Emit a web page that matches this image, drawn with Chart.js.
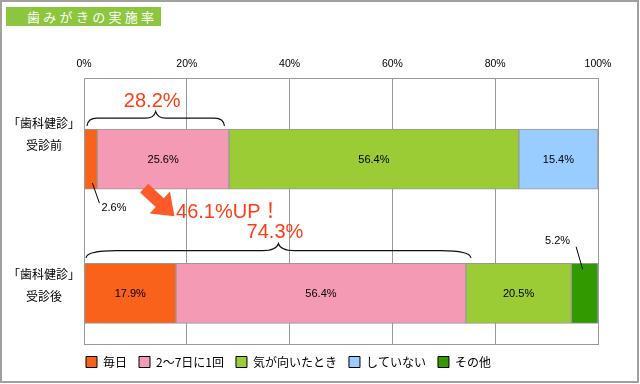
<!DOCTYPE html>
<html><head><meta charset="utf-8">
<script src="https://cdn.jsdelivr.net/npm/chart.js@4.4.1/dist/chart.umd.min.js"></script>
<style>
html,body{margin:0;padding:0;background:#fff;}
#wrap{position:relative;width:640px;height:384px;overflow:hidden;}
#title{position:absolute;left:6px;top:7px;width:155px;height:19px;background:#8CC63E;color:#fff;font-family:"Noto Sans CJK JP";font-size:13px;letter-spacing:3.3px;line-height:19px;padding-left:21px;box-sizing:border-box;white-space:nowrap;}
canvas{position:absolute;left:0;top:0;}
</style></head><body>
<div id="wrap"><canvas id="c" width="640" height="384" style="width:640px;height:384px"></canvas><div id="title">歯みがきの実施率</div></div>
<script>
// ---- data ----
const categories = [['「歯科健診」', '受診前'], ['「歯科健診」', '受診後']];
const seriesNames = ['毎日', '2〜7日に1回', '気が向いたとき', 'していない', 'その他'];
const everyDay = [2.6, 17.9];
const weekly = [25.6, 56.4];
const whenever = [56.4, 20.5];
const never = [15.4, null];
const other = [null, 5.2];
const xTicks = [0, 20, 40, 60, 80, 100];
const braceTotals = [28.2, 74.3];
const upLabel = '46.1%UP！';

// ---- styling ----
const seriesColors = ['#F8621A', '#F49AB4', '#9BCB35', '#99CCFF', '#339900'];
const seriesValues = [everyDay, weekly, whenever, never, other];
const labelShift = [-0.185, -0.058];
const accent = '#FF3D14';
const labelFont = {family: 'Noto Sans CJK JP', size: 12, lineHeight: 1.8};
const smallFont = '"Liberation Sans Narrow", "Liberation Sans"';

const datasets = seriesNames.map((name, d) => ({
  label: name,
  data: seriesValues[d].map((v, i) => ({x: v, y: i + 1})).filter(p => p.x !== null),
  backgroundColor: seriesColors[d],
  borderColor: '#999',
  borderWidth: 1,
  borderSkipped: false,
  barThickness: 60
}));

// width of widest category line, for centring the labels in the left margin
const mctx = document.createElement('canvas').getContext('2d');
mctx.font = labelFont.size + 'px "' + labelFont.family + '"';
const widest = Math.max(...categories.flat().map(t => mctx.measureText(t).width));

const frame = {
  id: 'frame',
  afterDraw(chart) {
    const {ctx, chartArea: ca} = chart;
    ctx.save();
    ctx.strokeStyle = '#999';
    ctx.lineWidth = 1;
    ctx.strokeRect(Math.round(ca.left) + 0.5, Math.round(ca.top) + 0.5, Math.round(ca.right - ca.left), Math.round(ca.bottom - ca.top));
    ctx.strokeStyle = '#A0A0A0';
    ctx.lineWidth = 2;
    ctx.strokeRect(1, 1, 637, 381);
    ctx.restore();
  }
};

function brace(ctx, x0, x1, yTip, yH, yPeak, rEnd, rMid) {
  const mid = (x0 + x1) / 2;
  ctx.beginPath();
  ctx.moveTo(x0, yTip);
  ctx.quadraticCurveTo(x0 + 1, yH, x0 + rEnd, yH);
  ctx.lineTo(mid - rMid, yH);
  ctx.quadraticCurveTo(mid - 2, yH, mid, yPeak);
  ctx.quadraticCurveTo(mid + 2, yH, mid + rMid, yH);
  ctx.lineTo(x1 - rEnd, yH);
  ctx.quadraticCurveTo(x1 - 1, yH, x1, yTip);
  ctx.stroke();
  return mid;
}

const annot = {
  id: 'annot',
  afterDatasetsDraw(chart) {
    const {ctx, scales: {x}} = chart;
    ctx.save();
    // segment labels
    chart.data.datasets.forEach((ds, d) => {
      const meta = chart.getDatasetMeta(d);
      meta.data.forEach((el, k) => {
        const v = ds.data[k].x;
        const cat = ds.data[k].y - 1;
        const cx = (el.x + el.base) / 2;
        const txt = v.toFixed(1) + '%';
        ctx.fillStyle = '#000';
        ctx.strokeStyle = '#000';
        ctx.lineWidth = 1;
        ctx.font = '11px ' + smallFont;
        ctx.textBaseline = 'middle';
        if (v >= 10) {
          ctx.textAlign = 'center';
          ctx.fillText(txt, cx, el.y + 1);
        } else if (cat === 0) {
          const b = el.y + el.height / 2;
          ctx.beginPath(); ctx.moveTo(cx + 1.5, b - 6); ctx.lineTo(cx + 8.5, b + 14); ctx.stroke();
          ctx.textAlign = 'left';
          ctx.fillText(txt, cx + 10.5, b + 19);
        } else {
          const t = el.y - el.height / 2;
          ctx.beginPath(); ctx.moveTo(cx - 2, t + 6); ctx.lineTo(cx - 8.5, t - 16.5); ctx.stroke();
          ctx.textAlign = 'right';
          ctx.fillText(txt, cx - 14.5, t - 22.5);
        }
      });
    });
    // braces
    const e1 = chart.getDatasetMeta(0).data[0];
    const e2 = chart.getDatasetMeta(0).data[1];
    const top1 = e1.y - e1.height / 2, bot1 = e1.y + e1.height / 2;
    const top2 = e2.y - e2.height / 2;
    ctx.strokeStyle = '#111';
    ctx.lineWidth = 1.2;
    const m1 = brace(ctx, x.getPixelForValue(0) + 3, x.getPixelForValue(braceTotals[0]) - 4.5, top1 - 3.3, top1 - 11, top1 - 17.6, 10, 10);
    const m2 = brace(ctx, x.getPixelForValue(0) + 2, x.getPixelForValue(braceTotals[1]) + 5, top2 - 5.5, top2 - 12.7, top2 - 19.7, 30, 16);
    ctx.fillStyle = accent;
    ctx.font = '20px "Liberation Sans", "Noto Sans CJK JP"';
    ctx.textAlign = 'center';
    ctx.textBaseline = 'alphabetic';
    ctx.fillText(braceTotals[0].toFixed(1) + '%', m1 - 3.5, top1 - 22.6);
    ctx.fillText(braceTotals[1].toFixed(1) + '%', m2 - 3.5, top2 - 25.7);
    ctx.textAlign = 'left';
    ctx.fillText(upLabel, x.getPixelForValue(17.9), bot1 + 29);
    // arrow
    const sx = x.getPixelForValue(11.7), sy = bot1 - 1;
    const tx = x.getPixelForValue(17.6), ty = bot1 + 27;
    const L = Math.hypot(tx - sx, ty - sy);
    const dx = (tx - sx) / L, dy = (ty - sy) / L;
    const nx = -dy, ny = dx;
    const hl = 20, hw = 15, sw = 6;
    const hx = tx - dx * hl, hy = ty - dy * hl;
    ctx.fillStyle = '#FF5A2A';
    ctx.beginPath();
    ctx.moveTo(sx + nx * sw, sy + ny * sw);
    ctx.lineTo(hx + nx * sw, hy + ny * sw);
    ctx.lineTo(hx + nx * hw, hy + ny * hw);
    ctx.lineTo(tx, ty);
    ctx.lineTo(hx - nx * hw, hy - ny * hw);
    ctx.lineTo(hx - nx * sw, hy - ny * sw);
    ctx.lineTo(sx - nx * sw, sy - ny * sw);
    ctx.closePath();
    ctx.fill();
    ctx.restore();
  }
};

new Chart(document.getElementById('c'), {
  type: 'bar',
  data: {datasets},
  options: {
    indexAxis: 'y',
    responsive: false,
    animation: false,
    layout: {padding: {left: 74, right: 42, top: 0, bottom: 6}},
    scales: {
      x: {
        type: 'linear', position: 'top', min: 0, max: 100, stacked: true,
        afterBuildTicks: s => { s.ticks = xTicks.map(v => ({value: v})); },
        afterFit: s => { s.height = 78; },
        grid: {color: '#999', lineWidth: 1, drawTicks: false},
        border: {color: '#999'},
        ticks: {callback: v => v + '%', color: '#000', padding: 8, maxRotation: 0, font: {family: smallFont, size: 10.5}}
      },
      y: {
        type: 'linear', reverse: true, min: 0.395, max: 2.378, stacked: true, offset: false,
        afterBuildTicks: s => { s.ticks = categories.map((c, i) => ({value: i + 1 + labelShift[i]})); },
        afterFit: s => { s.width = 10; },
        grid: {display: false, drawTicks: false},
        border: {color: '#999'},
        ticks: {mirror: true, crossAlign: 'center', padding: -(40 + widest / 2), color: '#000', callback: (v, i) => categories[i], font: labelFont}
      }
    },
    plugins: {
      tooltip: {enabled: false},
      legend: {
        position: 'bottom', align: 'start',
        labels: {
          boxWidth: 11, boxHeight: 11, padding: 12, color: '#000',
          font: {family: 'Noto Sans CJK JP', size: 12},
          generateLabels: chart => chart.data.datasets.map((ds, i) => ({
            text: ds.label, fillStyle: ds.backgroundColor, strokeStyle: '#000', lineWidth: 1, hidden: false, datasetIndex: i, fontColor: '#000'
          }))
        }
      }
    }
  },
  plugins: [frame, annot]
});
</script>
</body></html>
